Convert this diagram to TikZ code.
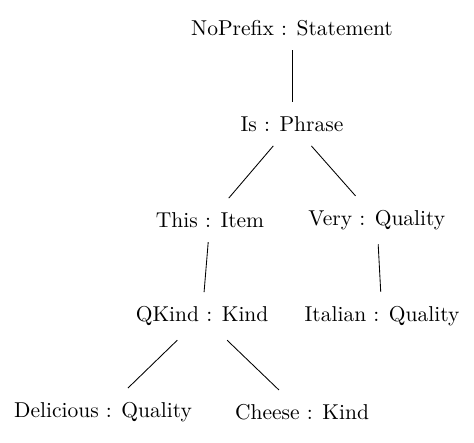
\documentclass[tikz,border=0pt]{standalone}
\usepackage{tikz}
\usetikzlibrary{positioning}

\begin{document}
\begin{tikzpicture}[node distance=1.571cm,on grid,
        every node/.style={inner xsep=2pt,inner ysep=6.5pt},
        tree/.style={line width=0.4pt}]

        \useasboundingbox (0,0) rectangle (7.75,7.24);

        \node (n_root) at (4.774,6.784) {NoPrefix : Statement};
        \node (n_is) [below=of n_root] {Is : Phrase};
        \node (n_this) [below left=1.571cm and 1.34cm of n_is] {This : Item};
        \node (n_very) [below right=1.571cm and 1.388cm of n_is] {Very : Quality};
        \node (n_qkind) [below left=1.571cm and 0.13cm of n_this] {QKind : Kind};
        \node (n_italian) [below right=1.571cm and 0.084cm of n_very] {Italian : Quality};
        \node (n_delicious) [below left=1.571cm and 1.62cm of n_qkind] {Delicious : Quality};
        \node (n_cheese) [below right=1.571cm and 1.635cm of n_qkind] {Cheese : Kind};

        \path[tree] (n_root) edge (n_is)
                    (n_is) edge (n_this)
                           edge (n_very)
                    (n_this) edge (n_qkind)
                    (n_very) edge (n_italian)
                    (n_qkind) edge (n_delicious)
                              edge (n_cheese);
    \end{tikzpicture}
\end{document}
